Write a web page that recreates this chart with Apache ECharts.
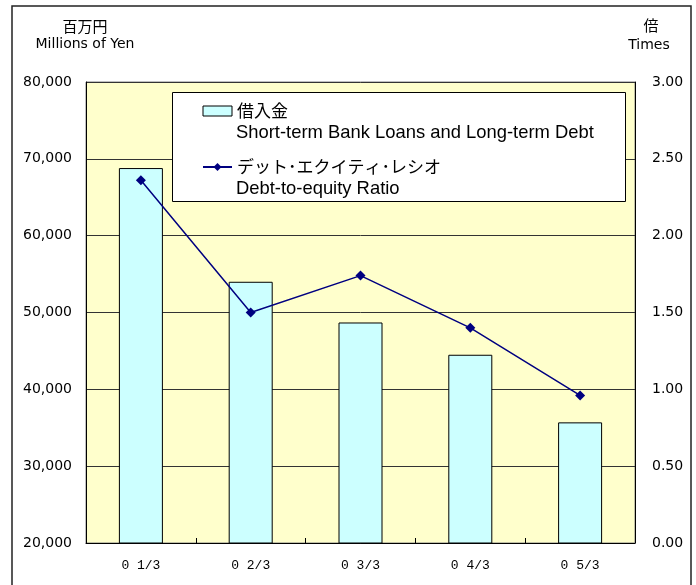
<!DOCTYPE html>
<html>
<head>
<meta charset="utf-8">
<script src="https://cdn.jsdelivr.net/npm/echarts@6/dist/echarts.min.js"></script>
<style>
  html, body { margin: 0; padding: 0; background: #fff; }
  #chart { width: 696px; height: 585px; }
</style>
</head>
<body>
<div id="chart"></div>
<script>
// 決算期
var categories = ["0 1/3", "0 2/3", "0 3/3", "0 4/3", "0 5/3"];
// 借入金（百万円）
var loans = [68800, 54000, 48700, 44500, 35700];
// デット・エクイティ・レシオ（倍）
var deRatio = [2.36, 1.50, 1.74, 1.40, 0.96];

var loanName = "借入金";
var ratioName = "デット･エクイティ･レシオ";

var chart = echarts.init(document.getElementById("chart"));
chart.setOption({
  animation: false,
  grid: {
    left: 86,
    right: 61,
    top: 82,
    bottom: 42,
    show: true,
    backgroundColor: "#FFFFCC",
    borderColor: "#808080",
    borderWidth: 1
  },
  legend: {
    orient: "vertical",
    left: 202,
    top: 101,
    padding: 0,
    itemWidth: 29,
    itemHeight: 10,
    itemGap: 36,
    z: 20,
    textStyle: {
      fontFamily: "Noto Sans CJK JP",
      fontSize: 17,
      lineHeight: 20,
      color: "#000"
    },
    data: [
      { name: loanName, icon: "rect", itemStyle: { borderWidth: 1, borderColor: "#000" } },
      { name: ratioName }
    ]
  },
  xAxis: {
    type: "category",
    data: categories,
    axisLine: { lineStyle: { color: "#000", width: 1 } },
    axisTick: { show: true, inside: true, length: 5, lineStyle: { color: "#000" } },
    axisLabel: {
      margin: 16,
      fontFamily: "Liberation Mono",
      fontSize: 13,
      color: "#000"
    }
  },
  yAxis: [
    {
      type: "value",
      min: 20000,
      max: 80000,
      interval: 10000,
      axisLine: { show: true, lineStyle: { color: "#000" } },
      axisTick: { show: false },
      splitLine: { show: true, lineStyle: { color: "#333", width: 1 } },
      axisLabel: {
        margin: 14,
        fontFamily: "DejaVu Sans",
        fontSize: 14,
        color: "#000",
        formatter: function (v) {
          return v.toLocaleString("en-US");
        }
      }
    },
    {
      type: "value",
      min: 0,
      max: 3,
      interval: 0.5,
      axisLine: { show: true, lineStyle: { color: "#000" } },
      axisTick: { show: false },
      splitLine: { show: false },
      axisLabel: {
        margin: 17,
        fontFamily: "DejaVu Sans",
        fontSize: 14,
        color: "#000",
        formatter: function (v) {
          return v.toFixed(2);
        }
      }
    }
  ],
  series: [
    {
      name: loanName,
      type: "bar",
      data: loans,
      barWidth: 44,
      itemStyle: {
        color: "#CCFFFF",
        borderColor: "#000",
        borderWidth: 1
      }
    },
    {
      name: ratioName,
      type: "line",
      yAxisIndex: 1,
      data: deRatio,
      symbol: "diamond",
      symbolSize: 10,
      color: "#000080",
      lineStyle: { color: "#000080", width: 1.5 },
      itemStyle: { color: "#000080" },
      z: 5
    }
  ],
  graphic: [
    // 外枠
    {
      type: "rect",
      shape: { x: 12, y: 6, width: 679, height: 620 },
      style: { fill: "none", stroke: "#222", lineWidth: 1.5 },
      silent: true
    },
    // 凡例の枠
    {
      type: "rect",
      z: 10,
      shape: { x: 172.5, y: 92.5, width: 453, height: 109 },
      style: { fill: "#fff", stroke: "#000", lineWidth: 1 },
      silent: true
    },
    {
      type: "text",
      z: 20,
      x: 236,
      y: 133,
      style: {
        text: "Short-term Bank Loans and Long-term Debt",
        font: "18.4px 'Liberation Sans'",
        fill: "#000",
        verticalAlign: "middle"
      }
    },
    {
      type: "text",
      z: 20,
      x: 236,
      y: 189,
      style: {
        text: "Debt-to-equity Ratio",
        font: "18.4px 'Liberation Sans'",
        fill: "#000",
        verticalAlign: "middle"
      }
    },
    // 軸の単位
    {
      type: "text",
      x: 85,
      y: 26,
      style: { text: "百万円", font: "15px 'Noto Sans CJK JP'", fill: "#000", align: "center", verticalAlign: "middle" }
    },
    {
      type: "text",
      x: 85,
      y: 44,
      style: { text: "Millions of Yen", font: "14px 'DejaVu Sans'", fill: "#000", align: "center", verticalAlign: "middle" }
    },
    {
      type: "text",
      x: 651,
      y: 25,
      style: { text: "倍", font: "15px 'Noto Sans CJK JP'", fill: "#000", align: "center", verticalAlign: "middle" }
    },
    {
      type: "text",
      x: 649,
      y: 45,
      style: { text: "Times", font: "14px 'DejaVu Sans'", fill: "#000", align: "center", verticalAlign: "middle" }
    }
  ]
});
</script>
</body>
</html>
